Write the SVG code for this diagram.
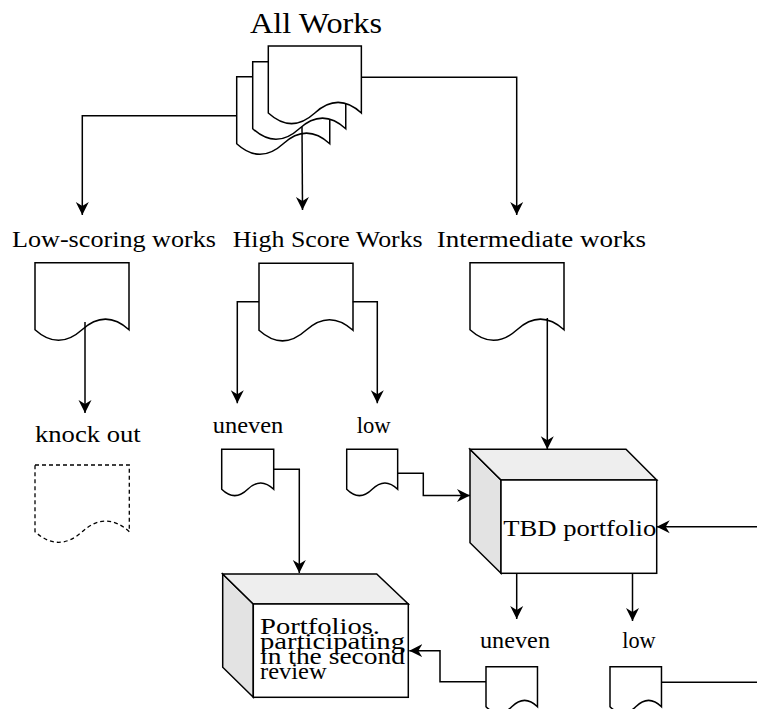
<svg xmlns="http://www.w3.org/2000/svg" xmlns:xlink="http://www.w3.org/1999/xlink" width="757" height="709" viewBox="0 0 757 709">
<style>
.doc{fill:#fff;stroke:#000;stroke-width:1.5}
.dash{fill:none;stroke:#000;stroke-width:1.3;stroke-dasharray:4,3}
.edge{fill:none;stroke:#000;stroke-width:1.5}
.face{fill:#fff;stroke:#000;stroke-width:1.5}
.side{fill:#e3e3e3;stroke:#000;stroke-width:1.5}
.top{fill:#eeeeee;stroke:#000;stroke-width:1.5}
text{font-family:"Liberation Serif","DejaVu Serif",serif;font-size:23px;fill:#000}
</style>
<defs>
<path id="docL" d="M0,0 H94 V67 Q70.5,45.8 47,67 Q23.5,88.2 0,67 Z"/>
<path id="docS" d="M0,0 H52 V40 Q39,27.3 26,40 Q13,52.7 0,40 Z"/>
<marker id="arr" markerUnits="userSpaceOnUse" markerWidth="14" markerHeight="14" refX="13" refY="7" orient="auto">
<path d="M0,0.5 L13,7 L0,13.5 L4,7 Z" fill="#000"/>
</marker>
</defs>

<g id="all-works">
<use href="#docL" class="doc" transform="translate(236.7,76.7) scale(0.99,1)"/>
<use href="#docL" class="doc" transform="translate(252.7,61.7) scale(0.99,1)"/>
<use href="#docL" class="doc" transform="translate(268.3,46) scale(0.99,1)"/>
<text x="250" y="33" style="font-size:29px" textLength="132" lengthAdjust="spacingAndGlyphs">All Works</text>
</g>

<g id="low-scoring">
<use href="#docL" class="doc" transform="translate(35,262.7)"/>
<text x="12" y="246.7" textLength="204" lengthAdjust="spacingAndGlyphs">Low-scoring works</text>
</g>

<g id="high-score">
<use href="#docL" class="doc" transform="translate(259,263.3)"/>
<text x="232.7" y="246.7" textLength="190" lengthAdjust="spacingAndGlyphs">High Score Works</text>
</g>

<g id="intermediate">
<use href="#docL" class="doc" transform="translate(470,262.7)"/>
<text x="436.7" y="246.7" textLength="209.3" lengthAdjust="spacingAndGlyphs">Intermediate works</text>
</g>

<g id="knock-out">
<path class="dash" d="M35,465 H129.3 V531.7 Q105.8,510.5 82.2,531.7 Q58.6,552.9 35,531.7 Z"/>
<text x="35" y="441.7" textLength="105.7" lengthAdjust="spacingAndGlyphs">knock out</text>
</g>

<g id="uneven-high">
<use href="#docS" class="doc" transform="translate(221.7,449.3)"/>
<text x="212.7" y="433.3" textLength="70.6" lengthAdjust="spacingAndGlyphs">uneven</text>
</g>

<g id="low-high">
<use href="#docS" class="doc" transform="translate(346.7,449.3) scale(0.98,1)"/>
<text x="356.7" y="433.3" textLength="34" lengthAdjust="spacingAndGlyphs">low</text>
</g>

<g id="tbd-portfolio">
<polygon class="side" points="470,449.3 501,480 501,573.3 470,542.7"/>
<polygon class="top" points="470,449.3 626,449.3 656.7,480 501,480"/>
<rect class="face" x="501" y="480" width="155.7" height="93.3"/>
<text x="503.3" y="536" textLength="153" lengthAdjust="spacingAndGlyphs">TBD portfolio</text>
</g>

<g id="second-review">
<polygon class="side" points="222.7,574 253.3,604 253.3,697.3 222.7,667.3"/>
<polygon class="top" points="222.7,574 376.7,574 408.3,604 253.3,604"/>
<rect class="face" x="253.3" y="604" width="155" height="93.3"/>
<g style="font-size:21px">
<text x="260" y="634" textLength="120" lengthAdjust="spacingAndGlyphs">Portfolios.</text>
<text x="260" y="649.3" textLength="145" lengthAdjust="spacingAndGlyphs">participating</text>
<text x="260" y="664.3" textLength="145" lengthAdjust="spacingAndGlyphs">in the second</text>
<text x="260" y="679.3" textLength="66.7" lengthAdjust="spacingAndGlyphs">review</text>
</g>
</g>

<g id="uneven-tbd">
<use href="#docS" class="doc" transform="translate(486,666.7) scale(0.99,1)"/>
<text x="480" y="648.3" textLength="70" lengthAdjust="spacingAndGlyphs">uneven</text>
</g>

<g id="low-tbd">
<use href="#docS" class="doc" transform="translate(610,666.7) scale(0.99,1)"/>
<text x="622.3" y="648.3" textLength="33.4" lengthAdjust="spacingAndGlyphs">low</text>
</g>

<g id="connectors">
<path class="edge" marker-end="url(#arr)" d="M236.7,115.7 H82.3 V215"/>
<path class="edge" marker-end="url(#arr)" d="M302,126.7 L302.5,210"/>
<path class="edge" marker-end="url(#arr)" d="M361.7,77.3 H516.7 V215"/>
<path class="edge" marker-end="url(#arr)" d="M85,322 V413"/>
<path class="edge" marker-end="url(#arr)" d="M259,301.7 H237.3 V403.3"/>
<path class="edge" marker-end="url(#arr)" d="M352.7,301.7 H377.3 V403.3"/>
<path class="edge" marker-end="url(#arr)" d="M547.3,318 V449.3"/>
<path class="edge" marker-end="url(#arr)" d="M273.3,469.3 H299.3 V573"/>
<path class="edge" marker-end="url(#arr)" d="M397.7,473.3 H423.3 V495.5 H470"/>
<path class="edge" marker-end="url(#arr)" d="M757,526.7 H656.7"/>
<path class="edge" marker-end="url(#arr)" d="M516.7,573.3 V619"/>
<path class="edge" marker-end="url(#arr)" d="M632.5,573.3 V621"/>
<path class="edge" marker-end="url(#arr)" d="M486,681.7 H440 V650.7 H409.3"/>
<path class="edge" d="M661.3,682.3 H757"/>
</g>
</svg>
